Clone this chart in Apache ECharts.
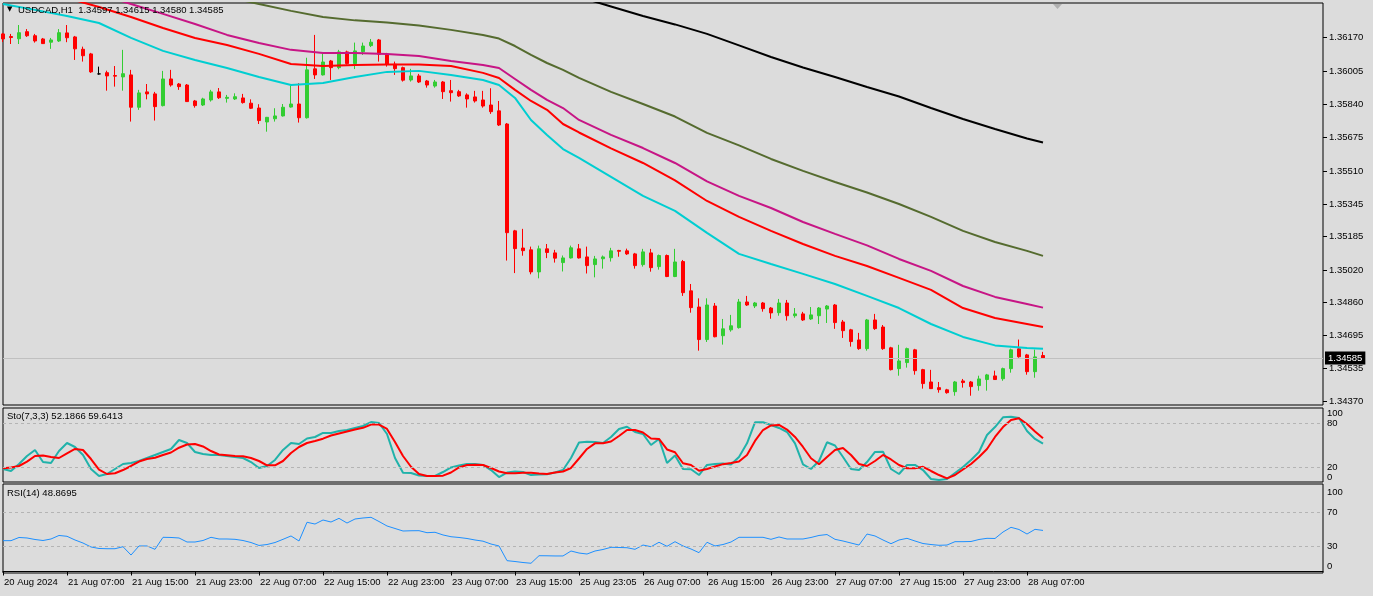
<!DOCTYPE html>
<html><head><meta charset="utf-8">
<script src="https://cdn.jsdelivr.net/npm/echarts@6/dist/echarts.min.js"></script>
<style>html,body{margin:0;padding:0;background:#dcdcdc;}#c{width:1373px;height:596px;}</style>
</head><body><div id="c"></div>
<script>
// ---- candles (H1), index 0 = first visible bar ----
const opens = [1.36189,1.36176,1.36165,1.36200,1.36180,1.36164,1.36148,1.36154,1.36194,1.36174,
1.36113,1.36090,1.35991,1.35997,1.35983,1.35976,1.35986,1.35826,1.35902,1.35892,
1.35834,1.35966,1.35941,1.35936,1.35857,1.35837,1.35862,1.35902,1.35870,1.35867,
1.35872,1.35846,1.35822,1.35753,1.35769,1.35783,1.35827,1.35842,1.35774,1.36016,
1.35986,1.36055,1.36022,1.36100,1.36042,1.36101,1.36131,1.36159,1.36088,1.36039,
1.36022,1.35961,1.35981,1.35956,1.35931,1.35951,1.35908,1.35903,1.35887,1.35877,
1.35862,1.35837,1.35808,1.35743,1.35214,1.35129,1.35120,1.35011,1.35125,1.35105,
1.35057,1.35080,1.35125,1.35085,1.35047,1.35076,1.35081,1.35117,1.35115,1.35100,
1.35047,1.35105,1.35037,1.35092,1.34988,1.35062,1.34917,1.34837,1.34676,1.34842,
1.34695,1.34724,1.34735,1.34862,1.34842,1.34857,1.34832,1.34809,1.34857,1.34794,
1.34803,1.34778,1.34794,1.34827,1.34847,1.34763,1.34724,1.34674,1.34631,1.34773,
1.34738,1.34635,1.34532,1.34562,1.34625,1.34527,1.34466,1.34438,1.34427,1.34418,
1.34471,1.34466,1.34448,1.34478,1.34496,1.34482,1.34532,1.34630,1.34600,1.34517,
1.34597];
const highs = [1.36194,1.36189,1.36233,1.36213,1.36189,1.36169,1.36169,1.36213,1.36233,1.36179,
1.36126,1.36095,1.36027,1.36007,1.36030,1.36110,1.36011,1.35912,1.35941,1.35902,
1.36006,1.36011,1.35946,1.35941,1.35862,1.35873,1.35912,1.35921,1.35887,1.35895,
1.35892,1.35865,1.35841,1.35778,1.35821,1.35842,1.35941,1.35945,1.36071,1.36184,
1.36098,1.36060,1.36110,1.36106,1.36146,1.36146,1.36164,1.36164,1.36095,1.36052,
1.36027,1.36016,1.35991,1.35961,1.35961,1.35956,1.35961,1.35912,1.35895,1.35907,
1.35907,1.35920,1.35857,1.35748,1.35219,1.35224,1.35136,1.35141,1.35149,1.35120,
1.35092,1.35141,1.35149,1.35136,1.35090,1.35092,1.35130,1.35120,1.35126,1.35105,
1.35125,1.35125,1.35097,1.35097,1.35125,1.35070,1.34951,1.34880,1.34880,1.34857,
1.34778,1.34798,1.34877,1.34892,1.34862,1.34862,1.34837,1.34877,1.34872,1.34832,
1.34813,1.34837,1.34837,1.34847,1.34852,1.34773,1.34729,1.34709,1.34778,1.34803,
1.34748,1.34640,1.34650,1.34636,1.34630,1.34531,1.34526,1.34466,1.34432,1.34471,
1.34481,1.34471,1.34497,1.34506,1.34522,1.34537,1.34631,1.34676,1.34605,1.34626,
1.34615];
const lows = [1.36149,1.36139,1.36139,1.36174,1.36146,1.36139,1.36115,1.36149,1.36148,1.36060,
1.36052,1.35996,1.35987,1.35908,1.35928,1.35908,1.35755,1.35813,1.35865,1.35760,
1.35830,1.35928,1.35912,1.35852,1.35824,1.35832,1.35854,1.35867,1.35849,1.35862,
1.35844,1.35817,1.35743,1.35705,1.35755,1.35780,1.35824,1.35750,1.35770,1.35966,
1.35983,1.35961,1.36014,1.36037,1.36015,1.36085,1.36124,1.36052,1.36027,1.35986,
1.35953,1.35953,1.35946,1.35923,1.35923,1.35867,1.35854,1.35877,1.35824,1.35849,
1.35824,1.35793,1.35733,1.35067,1.35005,1.35091,1.34999,1.34979,1.35079,1.35057,
1.35013,1.35077,1.35077,1.35003,1.34984,1.35027,1.35062,1.35086,1.35095,1.35027,
1.35037,1.35012,1.35022,1.34985,1.34985,1.34892,1.34809,1.34621,1.34664,1.34687,
1.34651,1.34715,1.34730,1.34842,1.34832,1.34814,1.34779,1.34794,1.34770,1.34784,
1.34768,1.34773,1.34753,1.34758,1.34729,1.34684,1.34641,1.34625,1.34621,1.34724,
1.34625,1.34523,1.34497,1.34537,1.34502,1.34433,1.34431,1.34413,1.34408,1.34398,
1.34438,1.34398,1.34423,1.34423,1.34476,1.34472,1.34512,1.34586,1.34502,1.34487,
1.34580];
const closes = [1.36164,1.36171,1.36195,1.36180,1.36154,1.36141,1.36159,1.36195,1.36170,1.36115,
1.36081,1.36001,1.35991,1.35981,1.35980,1.35992,1.35826,1.35897,1.35892,1.35829,
1.35966,1.35936,1.35928,1.35854,1.35834,1.35867,1.35902,1.35873,1.35875,1.35878,
1.35849,1.35821,1.35760,1.35776,1.35783,1.35826,1.35842,1.35774,1.36011,1.35986,
1.36050,1.36022,1.36100,1.36042,1.36105,1.36129,1.36148,1.36088,1.36039,1.36017,
1.35960,1.35981,1.35951,1.35936,1.35951,1.35903,1.35898,1.35882,1.35867,1.35857,
1.35832,1.35804,1.35738,1.35205,1.35126,1.35116,1.35011,1.35125,1.35107,1.35079,
1.35080,1.35130,1.35080,1.35042,1.35075,1.35085,1.35115,1.35113,1.35100,1.35042,
1.35110,1.35032,1.35092,1.34988,1.35060,1.34908,1.34834,1.34676,1.34847,1.34690,
1.34729,1.34744,1.34862,1.34847,1.34857,1.34829,1.34808,1.34857,1.34794,1.34803,
1.34773,1.34798,1.34832,1.34842,1.34760,1.34720,1.34666,1.34631,1.34773,1.34730,
1.34631,1.34527,1.34570,1.34631,1.34522,1.34458,1.34433,1.34428,1.34413,1.34466,
1.34463,1.34443,1.34481,1.34501,1.34478,1.34532,1.34625,1.34591,1.34517,1.34590,
1.34585];

// ---- moving averages, read at these bar indices ----
const maIdx = [0,4,8,12,16,20,24,28,32,36,40,44,48,52,56,60,62,64,66,68,70,72,76,80,84,88,92,96,100,104,108,112,116,120,124,128,130];
const maCyan = [1.36337,1.36308,1.36278,1.36243,1.36169,1.36105,1.36060,1.36020,1.35976,1.35936,1.35946,1.35976,1.36001,1.36006,1.35986,1.35961,1.35936,1.35872,1.35763,1.35689,1.35619,1.35575,1.35481,1.35387,1.35313,1.35204,1.35100,1.35050,1.35001,1.34951,1.34892,1.34832,1.34753,1.34689,1.34647,1.34634,1.34630];
const maRed = [1.36446,1.36407,1.36367,1.36322,1.36273,1.36218,1.36169,1.36134,1.36090,1.36040,1.36030,1.36035,1.36038,1.36038,1.36030,1.35996,1.35971,1.35912,1.35857,1.35813,1.35743,1.35701,1.35622,1.35550,1.35464,1.35362,1.35283,1.35214,1.35149,1.35090,1.35040,1.34981,1.34922,1.34832,1.34783,1.34753,1.34738];
const maMagenta = [1.36555,1.36496,1.36441,1.36387,1.36337,1.36288,1.36238,1.36184,1.36144,1.36110,1.36095,1.36095,1.36090,1.36080,1.36055,1.36035,1.36020,1.35966,1.35912,1.35862,1.35822,1.35763,1.35689,1.35624,1.35550,1.35459,1.35387,1.35327,1.35258,1.35199,1.35142,1.35075,1.35016,1.34941,1.34887,1.34852,1.34834];
const maOlive = [1.36605,1.36575,1.36545,1.36510,1.36476,1.36441,1.36407,1.36372,1.36337,1.36303,1.36273,1.36256,1.36246,1.36231,1.36209,1.36184,1.36166,1.36129,1.36085,1.36045,1.36011,1.35971,1.35902,1.35842,1.35780,1.35699,1.35637,1.35570,1.35511,1.35456,1.35404,1.35347,1.35283,1.35214,1.35159,1.35115,1.35090];
const maBlack = [null,null,null,null,null,null,null,null,null,null,null,null,null,null,1.36555,1.36506,1.36483,1.36461,1.36439,1.36416,1.36394,1.36372,1.36325,1.36278,1.36236,1.36189,1.36132,1.36075,1.36023,1.35976,1.35926,1.35879,1.35822,1.35768,1.35718,1.35671,1.35651];

// ---- Stochastic (7,3,3) ----
const stoMain = [17.7,15.0,24.5,35.4,43.6,27.2,25.9,42.2,53.1,47.7,
36.8,17.7,8.2,10.9,17.7,24.5,25.9,28.6,32.7,36.8,
40.9,45.0,57.2,53.1,40.9,38.1,36.8,36.8,35.4,34.1,
32.7,27.2,19.1,21.8,30.0,43.6,53.1,51.8,59.3,61.3,
66.8,66.8,69.5,70.8,73.6,76.3,81.7,80.4,65.4,32.7,
12.7,12.3,8.9,8.2,8.2,13.6,19.8,22.5,24.5,24.5,
23.2,16.3,6.8,12.9,14.3,13.6,9.5,10.2,10.5,12.9,
16.3,32.7,53.8,54.9,54.5,53.1,61.3,72.2,75.3,68.1,
65.4,50.4,58.6,25.9,36.1,17.7,17.3,9.5,23.2,24.5,
25.2,23.8,34.1,52.7,81.3,81.3,77.7,73.6,68.1,52.7,
24.1,17.7,28.6,54.1,49.7,34.1,17.7,16.3,27.2,40.9,
41.3,17.7,10.9,23.2,23.2,16.3,4.1,2.7,4.1,12.3,
20.4,30.0,40.9,64.0,74.9,88.1,89.0,87.2,69.5,58.6,
52.1866];
const stoSignal = [18.7,19.8,21.8,27.7,35.4,36.1,34.1,32.7,39.1,45.0,
43.6,31.3,17.0,10.9,11.9,16.3,21.8,27.9,31.3,33.1,
36.8,40.2,46.7,51.1,51.8,48.4,42.2,37.5,36.5,35.4,
35.0,32.7,28.6,22.8,22.8,28.6,39.5,47.7,53.1,55.9,
59.0,63.4,66.1,68.8,71.5,73.8,78.2,78.3,72.2,54.5,
35.4,20.8,10.9,8.2,8.2,8.6,12.9,19.8,23.2,23.6,
23.2,19.1,14.3,11.9,11.9,12.5,12.5,11.6,10.9,12.9,
14.3,19.1,32.0,45.0,52.7,52.7,55.2,62.7,70.8,70.8,
67.4,59.3,58.6,44.3,40.5,25.5,23.2,15.4,17.7,21.1,
24.3,25.9,27.9,36.8,55.9,70.8,77.0,77.7,71.5,61.3,
47.7,32.3,24.1,34.1,43.6,46.3,36.8,24.5,21.8,28.6,
36.8,30.7,23.2,18.7,18.7,20.7,15.0,9.5,5.0,9.5,
17.0,24.5,34.1,45.0,61.3,74.9,84.5,86.8,79.0,68.8,
59.6413];

// ---- RSI(14) ----
const rsi = [36.7,36.7,40.5,39.9,38.1,36.9,38.7,42.9,41.9,37.5,
33.9,29.2,27.4,27.1,27.1,29.5,19.6,30.4,30.4,26.4,
40.7,40.5,39.9,35.1,35.1,36.9,40.7,38.7,38.7,38.3,
36.9,34.5,31.0,32.1,34.5,38.3,42.3,36.3,58.6,56.5,
61.3,58.9,63.3,57.7,62.5,63.7,64.5,59.5,54.2,51.2,
48.2,48.5,48.6,46.2,46.7,43.5,41.4,40.5,39.3,37.5,
36.1,32.7,30.4,12.9,11.9,10.7,9.8,18.8,18.7,18.5,
18.5,24.4,22.0,20.8,24.4,26.2,28.8,28.6,28.3,26.4,
31.5,29.5,34.8,30.0,35.5,30.4,26.8,22.4,34.8,30.4,
32.1,35.1,40.7,40.7,40.7,40.7,38.3,41.1,38.7,38.7,
38.7,40.5,42.9,44.0,38.3,36.3,33.9,31.5,44.6,42.3,
37.5,33.1,37.5,39.5,36.3,33.3,32.1,31.2,31.5,35.5,
35.5,35.7,38.1,39.5,39.3,47.0,52.6,50.0,44.6,50.2,
48.8695];

// ---- tick labels ----
const timeTickLabels = ['20 Aug 2024','21 Aug 07:00','21 Aug 15:00','21 Aug 23:00','22 Aug 07:00','22 Aug 15:00','22 Aug 23:00','23 Aug 07:00','23 Aug 15:00','25 Aug 23:05','26 Aug 07:00','26 Aug 15:00','26 Aug 23:00','27 Aug 07:00','27 Aug 15:00','27 Aug 23:00','28 Aug 07:00'];
const priceTicks = [1.36170,1.36005,1.35840,1.35675,1.35510,1.35345,1.35185,1.35020,1.34860,1.34695,1.34535,1.34370];
const stoMidTicks = [20,80];
const rsiMidTicks = [30,70];
const paneTop = [100];
const paneBottom = [0];
const stoLevels = [20,80];
const rsiLevels = [30,70];

const N = opens.length;
const SLOTS = 166; // bars + empty right shift area
const TICK_EVERY = 8;
const cats = Array.from({length: SLOTS}, (_, i) => String(i));
const FONT = "'Liberation Sans', Arial, sans-serif";
const FS = 9.5;

const candleData = opens.map((o, i) => [o, closes[i], lows[i], highs[i]]);
function spread(idx, vals) {
  const a = new Array(N).fill(null);
  idx.forEach((k, j) => { a[k] = vals[j]; });
  return a;
}
const nulls = new Array(N).fill(null);
const last = a => a[a.length - 1];
const showTick = (i) => i % TICK_EVERY === 0 && i < N;

const GRID_L = 3, GRID_W = 1320;
const lbl = (extra) => Object.assign({fontSize: FS, fontFamily: FONT, color: '#000'}, extra || {});

function subAxis(grid, min, max, values, vAlign, show) {
  return {type: 'value', gridIndex: grid, position: 'right', min, max,
    axisLine: {show: false}, splitLine: {show: false}, axisTick: {show: false},
    axisLabel: {show: true, customValues: values, margin: 4, verticalAlign: vAlign,
                formatter: v => String(v), ...lbl()}};
}

const maLine = (name, vals, color) => ({
  name, type: 'line', xAxisIndex: 0, yAxisIndex: 0,
  data: spread(maIdx, vals), connectNulls: true, symbol: 'none',
  lineStyle: {color, width: 2}, itemStyle: {color}, z: 3, silent: true
});

const STO_MIN = 0, STO_MAX = 100.8, RSI_MIN = -1.79, RSI_MAX = 104.17;

const chart = echarts.init(document.getElementById('c'), null, {renderer: 'canvas'});
chart.setOption({
  animation: false,
  backgroundColor: '#dcdcdc',
  title: [
    {text: '▼', left: 7, top: 6, padding: 0, textStyle: {fontSize: 7, color: '#000', fontWeight: 'normal', fontFamily: 'DejaVu Sans'}},
    {text: 'USDCAD,H1  ' + [last(opens), last(highs), last(lows), last(closes)].map(v => v.toFixed(5)).join(' '),
     left: 18, top: 5, padding: 0, textStyle: lbl({fontWeight: 'normal'})},
    {text: 'Sto(7,3,3) ' + last(stoMain).toFixed(4) + ' ' + last(stoSignal).toFixed(4),
     left: 7, top: 411, padding: 0, textStyle: lbl({fontWeight: 'normal'})},
    {text: 'RSI(14) ' + last(rsi).toFixed(4),
     left: 7, top: 488, padding: 0, textStyle: lbl({fontWeight: 'normal'})}
  ],
  grid: [
    {left: GRID_L, top: 3, width: GRID_W, height: 402, show: true, borderColor: '#000', borderWidth: 1, backgroundColor: 'transparent'},
    {left: GRID_L, top: 408, width: GRID_W, height: 74, show: true, borderColor: '#000', borderWidth: 1, backgroundColor: 'transparent'},
    {left: GRID_L, top: 484, width: GRID_W, height: 89, show: true, borderColor: '#000', borderWidth: 1, backgroundColor: 'transparent'}
  ],
  xAxis: [
    {type: 'category', gridIndex: 0, data: cats, boundaryGap: false, show: false},
    {type: 'category', gridIndex: 1, data: cats, boundaryGap: false, show: false},
    {type: 'category', gridIndex: 2, data: cats, boundaryGap: false, position: 'bottom',
     axisLine: {show: true, lineStyle: {color: '#000', width: 1}},
     axisTick: {show: true, length: 4, interval: showTick, lineStyle: {color: '#000'}},
     axisLabel: {interval: showTick, align: 'left', margin: 4, padding: [0, 0, 0, 1],
                 formatter: (v, i) => timeTickLabels[i / TICK_EVERY] || '', ...lbl()},
     splitLine: {show: false}}
  ],
  yAxis: [
    {type: 'value', gridIndex: 0, position: 'right', min: 1.34352, max: 1.36342,
     axisLine: {show: false}, splitLine: {show: false},
     axisTick: {show: true, length: 4, customValues: priceTicks, lineStyle: {color: '#000'}},
     axisLabel: {customValues: priceTicks, formatter: v => v.toFixed(5), margin: 6, ...lbl()}},
    subAxis(1, STO_MIN, STO_MAX, stoMidTicks, 'middle'),
    subAxis(1, STO_MIN, STO_MAX, paneTop, 'top'),
    subAxis(1, STO_MIN, STO_MAX, paneBottom, 'bottom'),
    subAxis(2, RSI_MIN, RSI_MAX, rsiMidTicks, 'middle'),
    subAxis(2, RSI_MIN, RSI_MAX, paneTop, 'top'),
    subAxis(2, RSI_MIN, RSI_MAX, paneBottom, 'bottom')
  ],
  graphic: [
    {type: 'polygon', shape: {points: [[1053, 4], [1062, 4], [1057.5, 9]]}, style: {fill: '#b0b0b0'}, silent: true}
  ],
  series: [
    {name: 'price line', type: 'line', xAxisIndex: 0, yAxisIndex: 0, data: nulls, z: 1, silent: true,
     markLine: {silent: true, symbol: ['none', 'none'], animation: false, precision: 5,
       lineStyle: {color: '#c0c0c0', width: 1, type: 'solid'},
       label: {show: true, position: 'end', distance: 2, formatter: () => last(closes).toFixed(5),
               color: '#fff', backgroundColor: '#000', padding: [2, 3, 1, 3], fontSize: FS, fontFamily: FONT},
       data: [{yAxis: last(closes)}]}},
    {name: 'USDCAD', type: 'candlestick', xAxisIndex: 0, yAxisIndex: 0, data: candleData, barWidth: 4, z: 2,
     itemStyle: {color: '#32CD32', color0: '#FF0000', borderColor: '#32CD32', borderColor0: '#FF0000',
                 borderColorDoji: '#000000', borderWidth: 1}},
    maLine('MA1', maCyan, '#00CED1'),
    maLine('MA2', maRed, '#FF0000'),
    maLine('MA3', maMagenta, '#C71585'),
    maLine('MA4', maOlive, '#556B2F'),
    maLine('MA5', maBlack, '#000000'),
    {name: 'sto levels', type: 'line', xAxisIndex: 1, yAxisIndex: 1, data: nulls, z: 1, silent: true,
     markLine: {silent: true, symbol: ['none', 'none'], label: {show: false}, animation: false, precision: 2,
       lineStyle: {color: '#b4b4b4', width: 1, type: [3, 3]}, data: stoLevels.map(v => ({yAxis: v}))}},
    {name: 'Sto main', type: 'line', xAxisIndex: 1, yAxisIndex: 1, data: stoMain, symbol: 'none',
     lineStyle: {color: '#20B2AA', width: 2}, z: 3, silent: true},
    {name: 'Sto signal', type: 'line', xAxisIndex: 1, yAxisIndex: 1, data: stoSignal, symbol: 'none',
     lineStyle: {color: '#FF0000', width: 2}, z: 4, silent: true},
    {name: 'rsi levels', type: 'line', xAxisIndex: 2, yAxisIndex: 4, data: nulls, z: 1, silent: true,
     markLine: {silent: true, symbol: ['none', 'none'], label: {show: false}, animation: false, precision: 2,
       lineStyle: {color: '#b4b4b4', width: 1, type: [3, 3]}, data: rsiLevels.map(v => ({yAxis: v}))}},
    {name: 'RSI', type: 'line', xAxisIndex: 2, yAxisIndex: 4, data: rsi, symbol: 'none',
     lineStyle: {color: '#1E90FF', width: 1}, z: 3, silent: true}
  ]
});
</script>
</body></html>
